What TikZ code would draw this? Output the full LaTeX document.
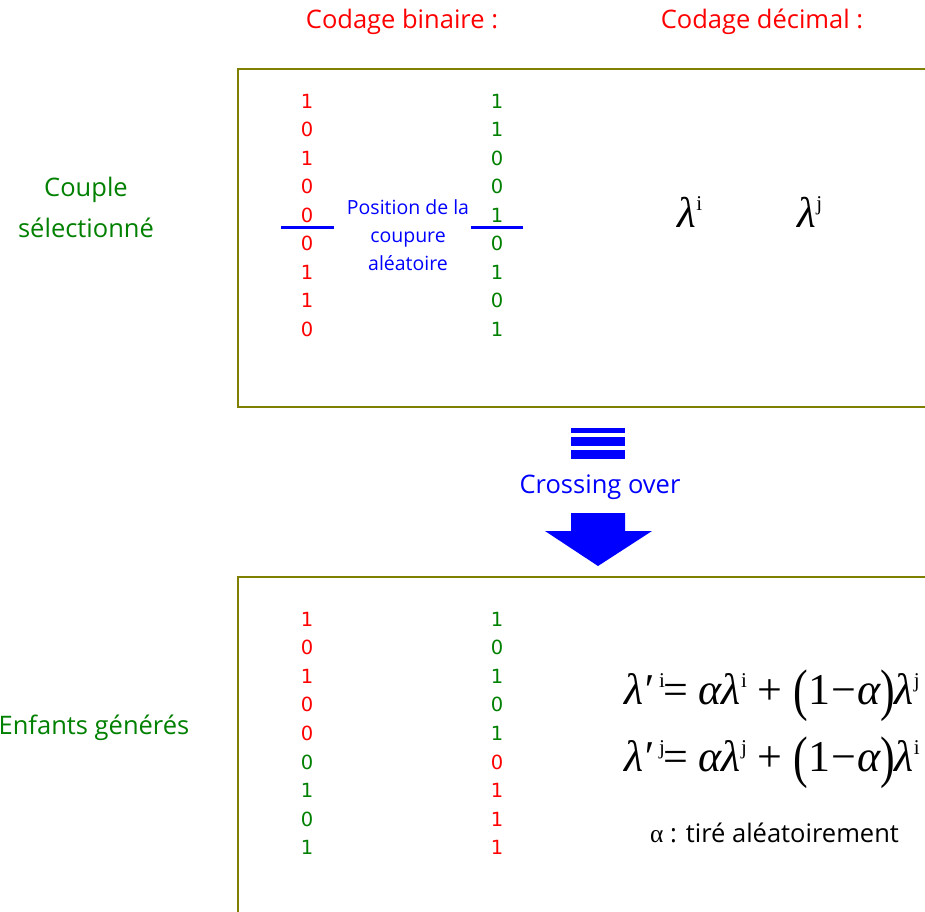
\documentclass[tikz,border=0pt]{standalone}
\usepackage{fontspec}
\setmainfont{Open Sans}
\newfontfamily\digfont{DejaVu Sans}
\newfontfamily\tmsfont{Liberation Serif}
\definecolor{cred}{RGB}{255,0,0}
\definecolor{cgreen}{RGB}{0,128,0}
\definecolor{cblue}{RGB}{0,0,255}
\definecolor{colive}{RGB}{128,128,0}
\newcommand\lamb{{\tmsfont\itshape λ}}
\newcommand\alf{{\tmsfont\itshape α}}
\newcommand\upx[1]{\raisebox{0.85ex}{\tmsfont\fontsize{21}{21}\selectfont #1}}
\newcommand\bigpar[1]{\raisebox{-0.12em}{\scalebox{1}[1.3]{#1}}}
\begin{document}
\begin{tikzpicture}[x=1pt,y=-1pt,
  lbl/.style={inner sep=0pt,font=\fontsize{25.5}{30}\selectfont},
  dg/.style={inner sep=0pt,font=\digfont\fontsize{19.5}{22}\selectfont},
  bluetxt/.style={inner sep=0pt,anchor=base,text=cblue,font=\fontsize{19.5}{22}\selectfont},
  boxframe/.style={draw=colive,line width=2pt},
  cutline/.style={draw=cblue,line width=3pt},
  frm/.style={inner sep=0pt,anchor=west,font=\tmsfont\fontsize{44}{48}\selectfont}]
\useasboundingbox (0,0) rectangle (925,911);
\clip (0,0) rectangle (925,911);
% headers
\node[lbl,text=cred] (hb) at (402,22) {Codage binaire :};
\node[lbl,text=cred] (hd) at (762,22) {Codage décimal :};
% boxes
\draw[boxframe] (238,69) rectangle (960,407);
\draw[boxframe] (238,577) rectangle (960,960);
% left labels
\node[lbl,text=cgreen] (c1) at (86,190) {Couple};
\node[lbl,text=cgreen] (c2) at (86,228) {sélectionné};
\node[lbl,text=cgreen] (ef) at (94,728) {Enfants générés};
% top digits
\foreach \v [count=\k] in {1,0,1,0,0,0,1,1,0}
  \node[dg,text=cred] (ta\k) at (307,{101+28.5*(\k-1)}) {\v};
\foreach \v [count=\k] in {1,1,0,0,1,0,1,0,1}
  \node[dg,text=cgreen] (tb\k) at (497,{101+28.5*(\k-1)}) {\v};
\coordinate (cl1) at (281,227); \coordinate (cl2) at (334,227);
\coordinate (cr1) at (471,227); \coordinate (cr2) at (523,227);
\draw[cutline] (cl1) -- (cl2);
\draw[cutline] (cr1) -- (cr2);
\node[bluetxt] (p1) at (408,214) {Position de la};
\node[bluetxt] (p2) at (408,242) {coupure};
\node[bluetxt] (p3) at (408,270) {aléatoire};
% lambdas
\node[inner sep=0pt,font=\tmsfont\fontsize{43}{48}\selectfont] (li) at (690,212) {\lamb\upx{i}};
\node[inner sep=0pt,font=\tmsfont\fontsize{43}{48}\selectfont] (lj) at (810,212) {\lamb\upx{j}};
% crossing over arrow
\fill[cblue] (571,428) rectangle (625,433);
\fill[cblue] (571,437) rectangle (625,446);
\fill[cblue] (571,450) rectangle (625,459);
\node[lbl,text=cblue] (co) at (600,487) {Crossing over};
\fill[cblue] (571,513) -- (625,513) -- (625,531) -- (652,531) -- (598,566) -- (545,531) -- (571,531) -- cycle;
% bottom digits
\foreach \v/\c [count=\k] in {1/cred,0/cred,1/cred,0/cred,0/cred,0/cgreen,1/cgreen,0/cgreen,1/cgreen}
  \node[dg,text=\c] (ba\k) at (307,{619+28.6*(\k-1)}) {\v};
\foreach \v/\c [count=\k] in {1/cgreen,0/cgreen,1/cgreen,0/cgreen,1/cgreen,0/cred,1/cred,1/cred,1/cred}
  \node[dg,text=\c] (bb\k) at (497,{619+28.6*(\k-1)}) {\v};
% formulas
\node[frm] (f1) at (624,696) {\lamb\kern-1pt{\itshape ′}\,\upx{i}\kern-2pt= \alf\lamb\upx{i} + \bigpar{(}1\kern1pt−\kern1pt\alf\bigpar{)}\lamb\upx{j}};
\node[frm] (f2) at (624,763) {\lamb\kern-1pt{\itshape ′}\,\upx{j}\kern-2pt= \alf\lamb\upx{j} + \bigpar{(}1\kern1pt−\kern1pt\alf\bigpar{)}\lamb\upx{i}};
\node[lbl,anchor=west] (al) at (650,833) {{\tmsfont α} : tiré aléatoirement};
\end{tikzpicture}
\end{document}
